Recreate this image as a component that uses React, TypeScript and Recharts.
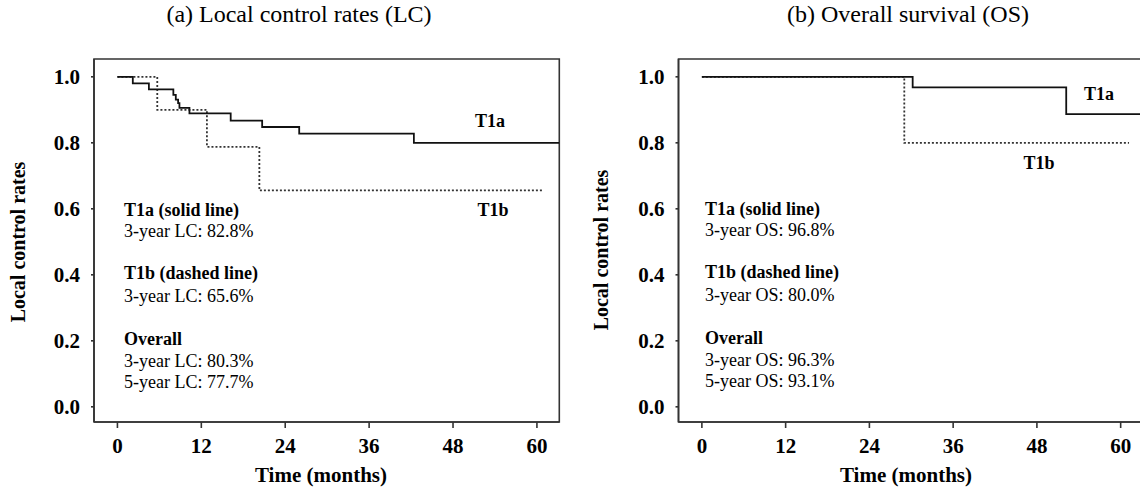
import React from "react";
import { LineChart, Line, XAxis, YAxis, ReferenceArea } from "recharts";

// ---- Data ----
const monthTicks = [0, 12, 24, 36, 48, 60];
const rateTicks = [0, 0.2, 0.4, 0.6, 0.8, 1.0];

// (a) Local control
const lcT1aTimes = [0, 2.2, 4.5, 8.0, 8.35, 8.68, 8.87, 10.3, 16.2, 20.7, 26.0, 42.4, 63.2];
const lcT1aRates = [1.0, 0.98, 0.962, 0.945, 0.931, 0.92, 0.906, 0.889, 0.867, 0.848, 0.828, 0.8, 0.8];
const lcT1bTimes = [0, 5.7, 12.8, 20.3, 60.9];
const lcT1bRates = [1.0, 0.9, 0.788, 0.656, 0.656];

// (b) Overall survival
const osT1aTimes = [0, 30.2, 52.2, 63.2];
const osT1aRates = [1.0, 0.968, 0.887, 0.887];
const osT1bTimes = [0, 29.0, 61.2];
const osT1bRates = [1.0, 0.8, 0.8];

const titles = ["(a) Local control rates (LC)", "(b) Overall survival (OS)"];
const yTitle = "Local control rates";
const xTitle = "Time (months)";
const lcNotes = [
  { text: "T1a (solid line)", bold: true },
  { text: "3-year LC: 82.8%", bold: false },
  { text: "T1b (dashed line)", bold: true },
  { text: "3-year LC: 65.6%", bold: false },
  { text: "Overall", bold: true },
  { text: "3-year LC: 80.3%", bold: false },
  { text: "5-year LC: 77.7%", bold: false },
];
const osNotes = [
  { text: "T1a (solid line)", bold: true },
  { text: "3-year OS: 96.8%", bold: false },
  { text: "T1b (dashed line)", bold: true },
  { text: "3-year OS: 80.0%", bold: false },
  { text: "Overall", bold: true },
  { text: "3-year OS: 96.3%", bold: false },
  { text: "5-year OS: 93.1%", bold: false },
];
const noteOffsets = [0, 21, 63, 86, 129, 151, 172];

const toRows = (ts: number[], vs: number[]) => ts.map((t, i) => ({ t, s: vs[i] }));

const X_DOMAIN: [number, number] = [-3.35, 63.2];
const Y_DOMAIN: [number, number] = [-0.046, 1.054];
const FONT = "'Liberation Serif', 'Times New Roman', serif";
const AXIS = "#333";

function Panel({
  solid,
  dotted,
  width,
  margin,
}: {
  solid: { t: number; s: number }[];
  dotted: { t: number; s: number }[];
  width: number;
  margin: { top: number; right: number; bottom: number; left: number };
}) {
  return (
    <LineChart width={width} height={489} margin={margin}>
      <XAxis
        type="number"
        dataKey="t"
        domain={X_DOMAIN}
        ticks={monthTicks}
        allowDataOverflow
        height={50}
        stroke={AXIS}
        strokeWidth={1.6}
        tickSize={6}
        tickMargin={10}
        tick={{ fill: "#000", fontSize: 21, fontWeight: 700, fontFamily: FONT }}
      />
      <YAxis
        type="number"
        domain={Y_DOMAIN}
        ticks={rateTicks}
        allowDataOverflow
        width={60}
        stroke={AXIS}
        strokeWidth={1.6}
        tickSize={3}
        tickMargin={11}
        tickFormatter={(v: number) => v.toFixed(1)}
        tick={{ fill: "#000", fontSize: 21, fontWeight: 700, fontFamily: FONT }}
      />
      <ReferenceArea
        x1={X_DOMAIN[0]}
        x2={X_DOMAIN[1]}
        y1={Y_DOMAIN[0]}
        y2={Y_DOMAIN[1]}
        fill="none"
        stroke={AXIS}
        strokeWidth={1.6}
      />
      <Line
        data={dotted}
        dataKey="s"
        type="stepAfter"
        dot={false}
        stroke="#333"
        strokeWidth={1.8}
        strokeDasharray="2 2"
        isAnimationActive={false}
      />
      <Line
        data={solid}
        dataKey="s"
        type="stepAfter"
        dot={false}
        stroke="#111"
        strokeWidth={1.8}
        isAnimationActive={false}
      />
    </LineChart>
  );
}

export default function App() {
  return (
    <div
      style={{
        position: "absolute",
        left: 0,
        top: 0,
        width: 1140,
        height: 489,
        overflow: "hidden",
        background: "#fff",
        fontFamily: FONT,
      }}
    >
      <div style={{ position: "absolute", left: 0, top: 0 }}>
        <Panel
          solid={toRows(lcT1aTimes, lcT1aRates)}
          dotted={toRows(lcT1bTimes, lcT1bRates)}
          width={580}
          margin={{ top: 59, right: 20.7, bottom: 17, left: 34 }}
        />
      </div>
      <div style={{ position: "absolute", left: 590, top: 0 }}>
        <Panel
          solid={toRows(osT1aTimes, osT1aRates)}
          dotted={toRows(osT1bTimes, osT1bRates)}
          width={600}
          margin={{ top: 59, right: 47, bottom: 17, left: 28.5 }}
        />
      </div>
      <svg
        width={1140}
        height={489}
        style={{ position: "absolute", left: 0, top: 0, pointerEvents: "none" }}
        fontFamily={FONT}
      >
        <text x={299} y={22} textAnchor="middle" fontSize={24} fill="#000">
          {titles[0]}
        </text>
        <text x={908} y={22} textAnchor="middle" fontSize={24} fill="#000">
          {titles[1]}
        </text>
        <text
          x={0}
          y={0}
          transform="translate(25,242) rotate(-90)"
          textAnchor="middle"
          fontSize={20}
          fontWeight={700}
          fill="#000"
        >
          {yTitle}
        </text>
        <text
          x={0}
          y={0}
          transform="translate(608,250) rotate(-90)"
          textAnchor="middle"
          fontSize={20}
          fontWeight={700}
          fill="#000"
        >
          {yTitle}
        </text>
        <text x={321} y={482} textAnchor="middle" fontSize={21} fontWeight={700} fill="#000">
          {xTitle}
        </text>
        <text x={906} y={482} textAnchor="middle" fontSize={21} fontWeight={700} fill="#000">
          {xTitle}
        </text>
        <text x={490} y={127} textAnchor="middle" fontSize={18} fontWeight={700} fill="#000">T1a</text>
        <text x={493} y={216} textAnchor="middle" fontSize={18} fontWeight={700} fill="#000">T1b</text>
        <text x={1099} y={100} textAnchor="middle" fontSize={18} fontWeight={700} fill="#000">T1a</text>
        <text x={1039} y={169} textAnchor="middle" fontSize={18} fontWeight={700} fill="#000">T1b</text>
        {lcNotes.map((n, i) => (
          <text
            key={"lc" + i}
            x={124}
            y={216 + noteOffsets[i]}
            fontSize={18}
            fontWeight={n.bold ? 700 : 400}
            fill="#000"
          >
            {n.text}
          </text>
        ))}
        {osNotes.map((n, i) => (
          <text
            key={"os" + i}
            x={705}
            y={214.5 + noteOffsets[i]}
            fontSize={18}
            fontWeight={n.bold ? 700 : 400}
            fill="#000"
          >
            {n.text}
          </text>
        ))}
      </svg>
    </div>
  );
}
